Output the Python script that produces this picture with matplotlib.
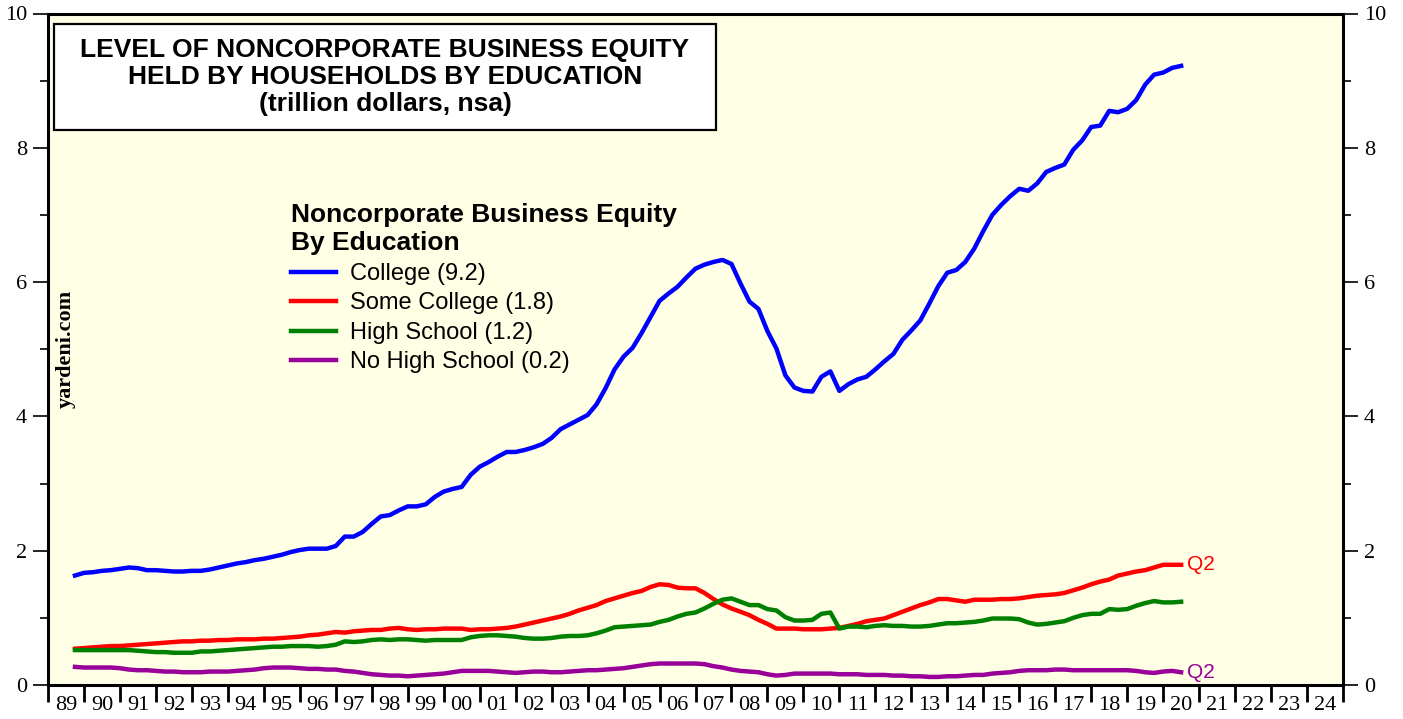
import numpy as np
import matplotlib
matplotlib.use('Agg')
import matplotlib.pyplot as plt
from matplotlib.patches import Rectangle

# quarterly data, 1989Q3 .. 2020Q2 (trillion dollars)
first_quarter = 1989.75
college = [1.63, 1.67, 1.68, 1.70, 1.71, 1.73, 1.75, 1.74, 1.71, 1.71, 1.70, 1.69,
           1.69, 1.70, 1.70, 1.72, 1.75, 1.78, 1.81, 1.83, 1.86, 1.88, 1.91, 1.94,
           1.98, 2.01, 2.03, 2.03, 2.03, 2.07, 2.21, 2.21, 2.28, 2.40, 2.51, 2.53,
           2.60, 2.66, 2.66, 2.69, 2.80, 2.88, 2.92, 2.95, 3.13, 3.25, 3.32, 3.40,
           3.47, 3.47, 3.50, 3.54, 3.59, 3.68, 3.81, 3.88, 3.95, 4.02, 4.18, 4.42,
           4.70, 4.89, 5.02, 5.24, 5.48, 5.72, 5.83, 5.93, 6.07, 6.20, 6.26, 6.30,
           6.33, 6.27, 5.98, 5.71, 5.60, 5.27, 5.01, 4.61, 4.43, 4.38, 4.37, 4.59,
           4.67, 4.38, 4.48, 4.55, 4.59, 4.70, 4.82, 4.93, 5.14, 5.28, 5.43, 5.68,
           5.94, 6.14, 6.18, 6.30, 6.50, 6.76, 7.00, 7.15, 7.28, 7.39, 7.36, 7.47,
           7.64, 7.70, 7.75, 7.97, 8.11, 8.31, 8.33, 8.55, 8.53, 8.58, 8.71, 8.94,
           9.09, 9.12, 9.19, 9.22]
some_college = [0.54, 0.55, 0.56, 0.57, 0.58, 0.58, 0.59, 0.60, 0.61, 0.62, 0.63, 0.64,
                0.65, 0.65, 0.66, 0.66, 0.67, 0.67, 0.68, 0.68, 0.68, 0.69, 0.69, 0.70,
                0.71, 0.72, 0.74, 0.75, 0.77, 0.79, 0.78, 0.80, 0.81, 0.82, 0.82, 0.84,
                0.85, 0.83, 0.82, 0.83, 0.83, 0.84, 0.84, 0.84, 0.82, 0.83, 0.83, 0.84,
                0.85, 0.87, 0.90, 0.93, 0.96, 0.99, 1.02, 1.06, 1.11, 1.15, 1.19, 1.25,
                1.29, 1.33, 1.37, 1.40, 1.46, 1.50, 1.49, 1.45, 1.44, 1.44, 1.37, 1.28,
                1.20, 1.14, 1.09, 1.04, 0.97, 0.91, 0.84, 0.84, 0.84, 0.83, 0.83, 0.83,
                0.84, 0.85, 0.88, 0.91, 0.95, 0.97, 0.99, 1.04, 1.09, 1.14, 1.19, 1.23,
                1.28, 1.28, 1.26, 1.24, 1.27, 1.27, 1.27, 1.28, 1.28, 1.29, 1.31, 1.33,
                1.34, 1.35, 1.37, 1.41, 1.45, 1.50, 1.54, 1.57, 1.63, 1.66, 1.69, 1.71,
                1.75, 1.79, 1.79, 1.79]
high_school = [0.52, 0.52, 0.52, 0.52, 0.52, 0.52, 0.52, 0.51, 0.50, 0.49, 0.49, 0.48,
               0.48, 0.48, 0.50, 0.50, 0.51, 0.52, 0.53, 0.54, 0.55, 0.56, 0.57, 0.57,
               0.58, 0.58, 0.58, 0.57, 0.58, 0.60, 0.65, 0.64, 0.65, 0.67, 0.68, 0.67,
               0.68, 0.68, 0.67, 0.66, 0.67, 0.67, 0.67, 0.67, 0.71, 0.73, 0.74, 0.74,
               0.73, 0.72, 0.70, 0.69, 0.69, 0.70, 0.72, 0.73, 0.73, 0.74, 0.77, 0.81,
               0.86, 0.87, 0.88, 0.89, 0.90, 0.94, 0.97, 1.02, 1.06, 1.08, 1.14, 1.21,
               1.27, 1.29, 1.24, 1.19, 1.19, 1.13, 1.11, 1.01, 0.96, 0.96, 0.97, 1.06,
               1.08, 0.84, 0.87, 0.87, 0.86, 0.88, 0.89, 0.88, 0.88, 0.87, 0.87, 0.88,
               0.90, 0.92, 0.92, 0.93, 0.94, 0.96, 0.99, 0.99, 0.99, 0.98, 0.93, 0.90,
               0.91, 0.93, 0.95, 1.00, 1.04, 1.06, 1.06, 1.13, 1.12, 1.13, 1.18, 1.22,
               1.25, 1.23, 1.23, 1.24]
no_high_school = [0.27, 0.26, 0.26, 0.26, 0.26, 0.25, 0.23, 0.22, 0.22, 0.21, 0.20, 0.20,
                  0.19, 0.19, 0.19, 0.20, 0.20, 0.20, 0.21, 0.22, 0.23, 0.25, 0.26, 0.26,
                  0.26, 0.25, 0.24, 0.24, 0.23, 0.23, 0.21, 0.20, 0.18, 0.16, 0.15, 0.14,
                  0.14, 0.13, 0.14, 0.15, 0.16, 0.17, 0.19, 0.21, 0.21, 0.21, 0.21, 0.20,
                  0.19, 0.18, 0.19, 0.20, 0.20, 0.19, 0.19, 0.20, 0.21, 0.22, 0.22, 0.23,
                  0.24, 0.25, 0.27, 0.29, 0.31, 0.32, 0.32, 0.32, 0.32, 0.32, 0.31, 0.28,
                  0.26, 0.23, 0.21, 0.20, 0.19, 0.16, 0.14, 0.15, 0.17, 0.17, 0.17, 0.17,
                  0.17, 0.16, 0.16, 0.16, 0.15, 0.15, 0.15, 0.14, 0.14, 0.13, 0.13, 0.12,
                  0.12, 0.13, 0.13, 0.14, 0.15, 0.15, 0.17, 0.18, 0.19, 0.21, 0.22, 0.22,
                  0.22, 0.23, 0.23, 0.22, 0.22, 0.22, 0.22, 0.22, 0.22, 0.22, 0.21, 0.19,
                  0.18, 0.20, 0.21, 0.19]

series_names = ['College (9.2)', 'Some College (1.8)', 'High School (1.2)', 'No High School (0.2)']
series_colors = ['#0000ff', '#ff0000', '#008000', '#990099']
year_labels = ['89', '90', '91', '92', '93', '94', '95', '96', '97', '98', '99', '00',
               '01', '02', '03', '04', '05', '06', '07', '08', '09', '10', '11', '12',
               '13', '14', '15', '16', '17', '18', '19', '20', '21', '22', '23', '24']

t = first_quarter + 0.25 * np.arange(len(college))

fig = plt.figure(figsize=(14.03, 7.19), dpi=100)
ax = fig.add_axes([48 / 1403, 34 / 719, 1295 / 1403, 671.5 / 719])
ax.set_facecolor('#ffffe6')

for vals, name, col in zip([college, some_college, high_school, no_high_school],
                           series_names, series_colors):
    ax.plot(t, vals, color=col, lw=3.2, label=name, solid_joinstyle='round')

# Q2 end labels
ax.annotate('Q2', xy=(t[-1], some_college[-1]), xytext=(4, 0), textcoords='offset points',
            color='#ff0000', fontsize=15, va='center', ha='left', family='Liberation Sans')
ax.annotate('Q2', xy=(t[-1], no_high_school[-1]), xytext=(4, 0), textcoords='offset points',
            color='#990099', fontsize=15, va='center', ha='left', family='Liberation Sans')

# axes
ax.set_xlim(1989, 2025)
ax.set_ylim(0, 10)
for s in ax.spines.values():
    s.set_linewidth(2.2)

ax.set_yticks(np.arange(0, 11, 2))
ax.set_yticks(np.arange(1, 10, 2), minor=True)
ax.tick_params(axis='y', which='major', direction='out', length=11, width=1.2,
               left=True, right=True, labelleft=True, labelright=True, pad=4,
               labelsize=16)
ax.tick_params(axis='y', which='minor', direction='out', length=6, width=1.2,
               left=True, right=True)

ax.set_xticks(np.arange(1989, 2026))
ax.set_xticklabels([])
ax.set_xticks(np.arange(1989, 2025) + 0.5, minor=True)
ax.set_xticklabels(year_labels, minor=True)
ax.tick_params(axis='x', which='major', direction='out', length=12, width=2)
ax.tick_params(axis='x', which='minor', length=0, pad=8, labelsize=16)
for lbl in ax.get_xticklabels(minor=True):
    lbl.set_family('Liberation Serif')
for tk in ax.yaxis.get_major_ticks():
    tk.label1.set_family('Liberation Serif')
    tk.label2.set_family('Liberation Serif')

# title box
ax.add_patch(Rectangle((6 / 1295, 0.8265), 662 / 1295, 0.158, transform=ax.transAxes,
                       facecolor='white', edgecolor='black', lw=1.6, zorder=5))
title_lines = ['LEVEL OF NONCORPORATE BUSINESS EQUITY',
               'HELD BY HOUSEHOLDS BY EDUCATION',
               '(trillion dollars, nsa)']
for line, yy in zip(title_lines, [0.9457, 0.9054, 0.8652]):
    ax.text(0.2602, yy, line, transform=ax.transAxes, ha='center', va='center',
            fontsize=19, fontweight='bold', family='Liberation Sans', zorder=6)

# legend
leg = ax.legend(loc='upper left', bbox_to_anchor=((291 - 48) / 1295, (685 - 203) / 671.5),
                frameon=False, borderpad=0, borderaxespad=0, handlelength=1.9,
                handletextpad=0.6, labelspacing=0.31,
                title='Noncorporate Business Equity\nBy Education', alignment='left',
                prop={'family': 'Liberation Sans', 'size': 17},
                title_fontproperties={'family': 'Liberation Sans', 'size': 19, 'weight': 'bold'})
leg.get_title().set_linespacing(1.2)
leg._legend_box.sep = 6
for h in leg.get_lines():
    h.set_linewidth(3.2)

ax.text(18 / 1295, 0.5, 'yardeni.com', transform=ax.transAxes, rotation=90,
        ha='center', va='center', fontsize=16, fontweight='bold', family='Liberation Serif')

fig.savefig('out.png', dpi=100)
